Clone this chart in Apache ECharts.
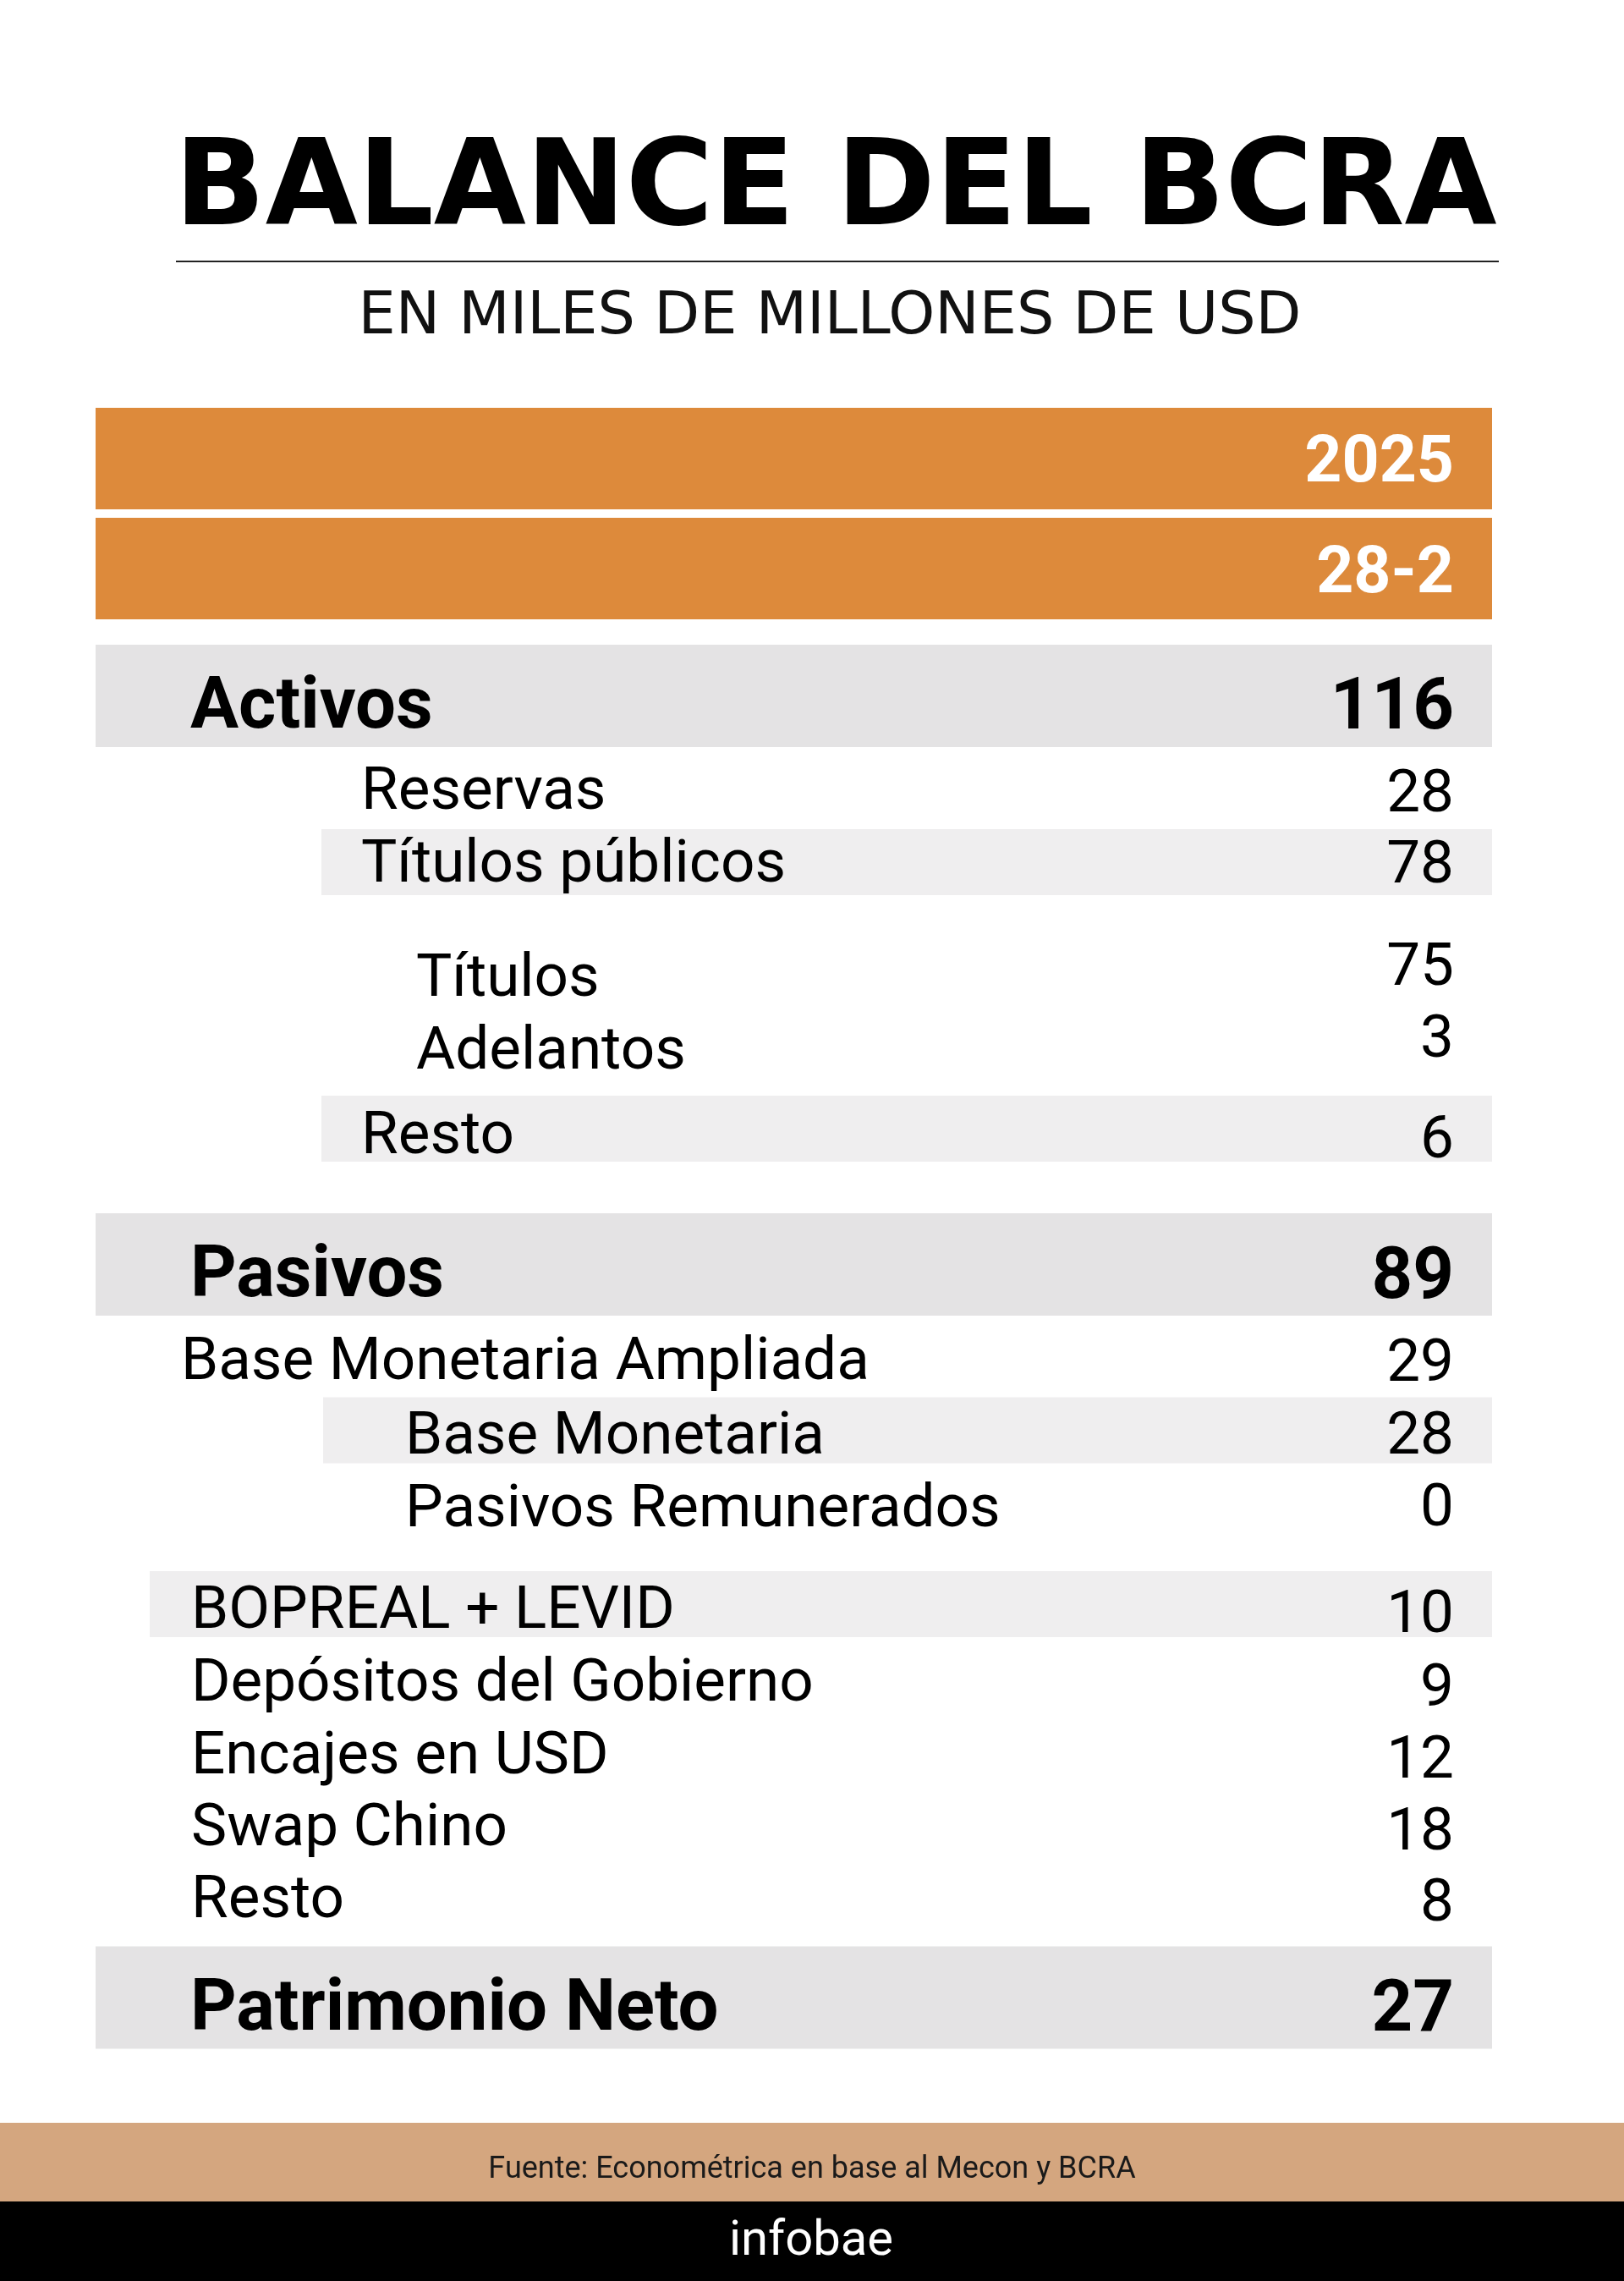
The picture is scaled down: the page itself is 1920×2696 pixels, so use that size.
<!DOCTYPE html>
<html><head><meta charset="utf-8">
<script src="https://cdn.jsdelivr.net/npm/echarts@6/dist/echarts.min.js"></script>
<style>html,body{margin:0;padding:0;background:#fff}#c{width:1920px;height:2696px}</style>
</head><body><div id="c"></div>
<script>
// ---- data ----
const titleText = 'BALANCE DEL BCRA';
const subtitleText = 'EN MILES DE MILLONES DE USD';
const headerLabels = ['2025', '28-2'];
const rowLabels = ['Activos', 'Reservas', 'Títulos públicos', 'Títulos', 'Adelantos', 'Resto',
  'Pasivos', 'Base Monetaria Ampliada', 'Base Monetaria', 'Pasivos Remunerados',
  'BOPREAL + LEVID', 'Depósitos del Gobierno', 'Encajes en USD', 'Swap Chino', 'Resto', 'Patrimonio Neto'];
const rowValues = [116, 28, 78, 75, 3, 6, 89, 29, 28, 0, 10, 9, 12, 18, 8, 27];
const sourceText = 'Fuente: Econométrica en base al Mecon y BCRA';
const brandText = 'infobae';

// ---- layout (positions in the page's table axis units) ----
const headerCenter = [542, 672];
const headerTextY = [545, 676];
const rowKind = ['main','plain','band','plain','plain','band','main','plain','band','plain','band','plain','plain','plain','plain','main'];
const labelX = [225, 427, 427, 492, 492, 427, 225, 214, 479, 479, 226, 226, 226, 226, 226, 225];
const bandX0 = [113, null, 380, null, null, 380, 113, null, 382, null, 177, null, null, null, null, 113];
const bandCenter = [822.5, null, 1019, null, null, 1334, 1494.5, null, 1690.5, null, 1896, null, null, null, null, 2361];
const labelY = [833, 934, 1020, 1155, 1241, 1341, 1505, 1608, 1696, 1782, 1902, 1988, 2074, 2159, 2244, 2372];
const valueY = [834, 937, 1021, 1142, 1227, 1346, 1507, 1610, 1696, 1781, 1907, 1994, 2079, 2164, 2248, 2373];
const tableRight = 1764, valueRight = 1719;

const ORANGE = '#dd8a3b', GRAY = '#e4e3e4', LIGHT = '#efeeef';
const FONT = 'Roboto, "Liberation Sans", sans-serif';

const chart = echarts.init(document.getElementById('c'), null, {renderer: 'canvas', width: 1920, height: 2696});

function txt(x, y, text, size, weight, align, fill, family) {
  return {type: 'text', style: {x, y: y + 0.063 * size, text, fontSize: size, fontWeight: weight,
    fontFamily: family || FONT, align, verticalAlign: 'middle', fill: fill || '#000'}};
}

const option = {
  animation: false,
  backgroundColor: '#ffffff',
  grid: {left: 0, right: 0, top: 0, bottom: 0},
  xAxis: {type: 'value', min: 0, max: 1920, show: false},
  yAxis: {type: 'value', min: 0, max: 2696, inverse: true, show: false},
  graphic: [
    {type: 'text', style: {x: 988, y: 228, text: titleText, fontSize: 141, fontWeight: 'bold',
      fontFamily: '"DejaVu Sans"', align: 'center', verticalAlign: 'middle', fill: '#000'}},
    {type: 'line', shape: {x1: 208, y1: 309, x2: 1772, y2: 309}, style: {stroke: '#222', lineWidth: 2}},
    {type: 'text', style: {x: 981, y: 376, text: subtitleText, fontSize: 70, fontWeight: 'normal',
      fontFamily: '"DejaVu Sans"', align: 'center', verticalAlign: 'middle', fill: '#111'}},
    {type: 'rect', shape: {x: 0, y: 2509, width: 1920, height: 93}, style: {fill: '#d4a67f'}},
    {type: 'rect', shape: {x: 0, y: 2602, width: 1920, height: 94}, style: {fill: '#000'}},
    {type: 'text', style: {x: 960, y: 2565, text: sourceText, fontSize: 36, fontFamily: FONT,
      align: 'center', verticalAlign: 'middle', fill: '#1a1a1a'}},
    {type: 'text', style: {x: 959, y: 2650, text: brandText, fontSize: 58, fontWeight: 'normal', fontFamily: FONT,
      align: 'center', verticalAlign: 'middle', fill: '#fff'}}
  ],
  series: [
    {
      type: 'custom', coordinateSystem: 'cartesian2d',
      data: headerLabels.map((h, i) => [i]),
      renderItem: function (params, api) {
        const i = api.value(0);
        const tl = api.coord([113, headerCenter[i] - 60]);
        const sz = api.size([tableRight - 113, 120]);
        const vp = api.coord([valueRight, headerTextY[i]]);
        return {type: 'group', children: [
          {type: 'rect', shape: {x: tl[0], y: tl[1], width: sz[0], height: sz[1]}, style: {fill: ORANGE}},
          txt(vp[0], vp[1], headerLabels[i], 77, 'bold', 'right', '#fff')
        ]};
      }
    },
    {
      type: 'custom', coordinateSystem: 'cartesian2d',
      data: rowLabels.map((r, i) => [i]),
      renderItem: function (params, api) {
        const i = api.value(0);
        const kind = rowKind[i];
        const children = [];
        if (bandX0[i] !== null) {
          const h = kind === 'main' ? 121 : 78;
          const tl = api.coord([bandX0[i], bandCenter[i] - h / 2]);
          const sz = api.size([tableRight - bandX0[i], h]);
          children.push({type: 'rect', shape: {x: tl[0], y: tl[1], width: sz[0], height: sz[1]},
            style: {fill: kind === 'main' ? GRAY : LIGHT}});
        }
        const bold = kind === 'main';
        const fs = bold ? 85 : 71;
        const lp = api.coord([labelX[i], labelY[i]]);
        const vp = api.coord([valueRight, valueY[i]]);
        children.push(txt(lp[0], lp[1], rowLabels[i], fs, bold ? 'bold' : 'normal', 'left'));
        children.push(txt(vp[0], vp[1], String(rowValues[i]), fs, bold ? 'bold' : 'normal', 'right'));
        return {type: 'group', children};
      }
    }
  ]
};
chart.setOption(option);
</script>
</body></html>
